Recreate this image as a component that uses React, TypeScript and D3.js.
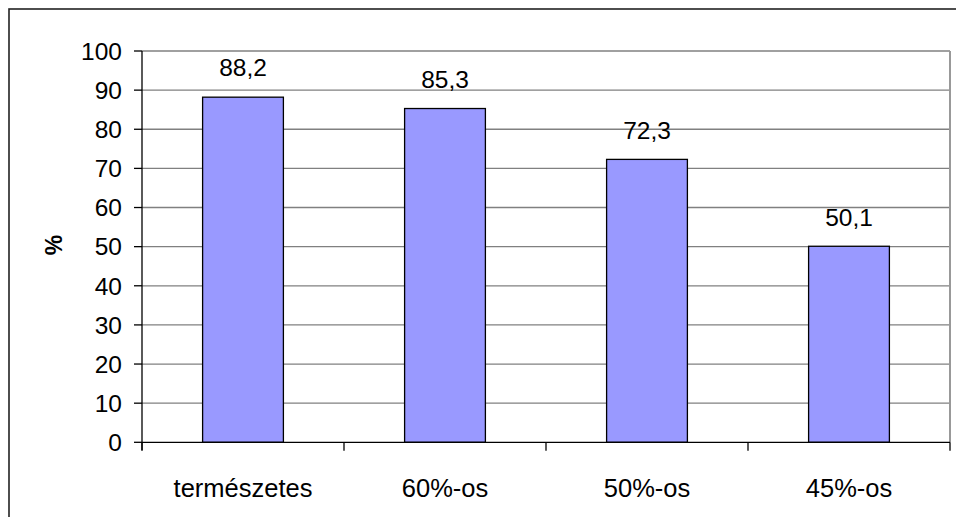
import React, { useEffect, useRef } from "react";
import * as d3 from "d3";

const categories = ["természetes", "60%-os", "50%-os", "45%-os"];
const values = [88.2, 85.3, 72.3, 50.1];
const yTicks = [0, 10, 20, 30, 40, 50, 60, 70, 80, 90, 100];
const yLabel = "%";

export default function App() {
  const ref = useRef<SVGSVGElement>(null);
  useEffect(() => {
    const svg = d3.select(ref.current);
    svg.selectAll("*").remove();
    const left = 142, right = 950, top = 51, bottom = 442.3;
    const font = "Liberation Sans, Arial, sans-serif";

    svg.append("rect").attr("x", 9).attr("y", 9).attr("width", 960).attr("height", 520)
      .attr("fill", "white").attr("stroke", "#222").attr("stroke-width", 1.6);

    const x = d3.scaleBand().domain(categories).range([left, right]).paddingInner(0).paddingOuter(0);
    const y = d3.scaleLinear().domain([0, 100]).range([bottom, top]);

    svg.append("g").selectAll("line").data(yTicks.filter(t => t > 0)).join("line")
      .attr("x1", left).attr("x2", right).attr("y1", d => y(d)).attr("y2", d => y(d))
      .attr("stroke", "#808080").attr("stroke-width", 1.3);
    svg.append("line").attr("x1", right).attr("x2", right).attr("y1", top).attr("y2", bottom)
      .attr("stroke", "#999").attr("stroke-width", 2);

    const bw = x.bandwidth() * 0.4;
    svg.append("g").selectAll("rect").data(values).join("rect")
      .attr("x", (d, i) => x(categories[i])! + x.bandwidth() / 2 - bw / 2)
      .attr("y", d => y(d)).attr("width", bw).attr("height", d => bottom - y(d))
      .attr("fill", "#9999FF").attr("stroke", "#000").attr("stroke-width", 1.3);

    svg.append("g").selectAll("text").data(values).join("text")
      .attr("x", (d, i) => x(categories[i])! + x.bandwidth() / 2)
      .attr("y", d => y(d) - 20.7)
      .attr("text-anchor", "middle").attr("font-family", font).attr("font-size", 24.5)
      .text(d => d.toFixed(1).replace(".", ","));

    svg.append("line").attr("x1", left).attr("x2", left).attr("y1", top).attr("y2", bottom + 8)
      .attr("stroke", "#000").attr("stroke-width", 1.3);
    svg.append("g").selectAll("line").data(yTicks).join("line")
      .attr("x1", left - 8).attr("x2", left).attr("y1", d => y(d)).attr("y2", d => y(d))
      .attr("stroke", "#000").attr("stroke-width", 1.3);
    svg.append("g").selectAll("text").data(yTicks).join("text")
      .attr("x", 122).attr("y", d => y(d)).attr("dy", "0.36em")
      .attr("text-anchor", "end").attr("font-family", font).attr("font-size", 24.5)
      .text(d => String(d));

    svg.append("line").attr("x1", left).attr("x2", right).attr("y1", bottom).attr("y2", bottom)
      .attr("stroke", "#000").attr("stroke-width", 1.3);
    const bounds = categories.map(c => x(c)!).concat([right]);
    svg.append("g").selectAll("line").data(bounds).join("line")
      .attr("x1", d => d).attr("x2", d => d).attr("y1", bottom).attr("y2", bottom + 8.5)
      .attr("stroke", "#000").attr("stroke-width", 1.3);
    svg.append("g").selectAll("text").data(categories).join("text")
      .attr("x", d => x(d)! + x.bandwidth() / 2).attr("y", 497)
      .attr("text-anchor", "middle").attr("font-family", font).attr("font-size", 25.5)
      .text(d => d);

    svg.append("text").attr("transform", "translate(62,245) rotate(-90)")
      .attr("text-anchor", "middle").attr("font-family", font).attr("font-size", 23)
      .attr("font-weight", "bold").text(yLabel);
  }, []);
  return (
    <svg ref={ref} width={956} height={517}
      style={{ position: "absolute", left: 0, top: 0, display: "block" }} />
  );
}
